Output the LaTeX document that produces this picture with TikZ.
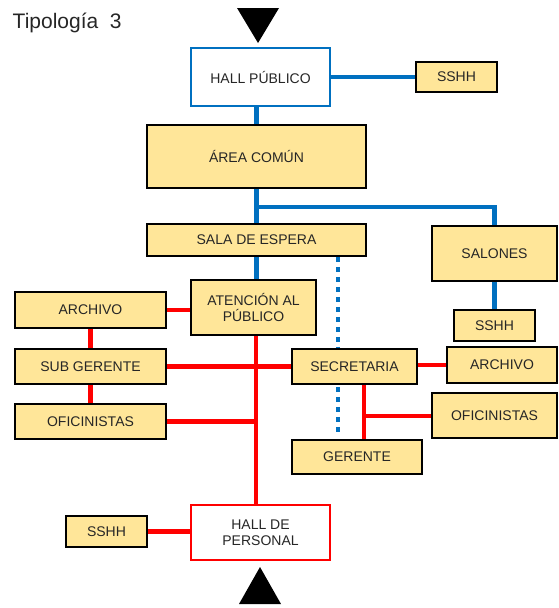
\documentclass[tikz,border=0pt]{standalone}
\usepackage{fontspec}
\setmainfont{Liberation Sans}
\usetikzlibrary{backgrounds}
\definecolor{boxfill}{HTML}{FFE699}
\definecolor{bl}{HTML}{0070C0}
\definecolor{rd}{HTML}{FF0000}
\definecolor{txt}{HTML}{262626}
\tikzset{
  box/.style={draw=black, line width=1.6pt, fill=boxfill, inner sep=0pt, align=center,
    font=\fontsize{14}{16.5}\selectfont, text=txt},
  hallb/.style={box, fill=white, draw=bl, line width=2.6pt},
  hallr/.style={box, fill=white, draw=rd, line width=2.6pt},
  bline/.style={draw=bl, line width=4.8pt},
  rline/.style={draw=rd, line width=4.8pt},
  dline/.style={draw=bl, line width=4.8pt, dash pattern=on 5pt off 5pt},
}
\begin{document}
\begin{tikzpicture}[x=1pt,y=-1pt]
\useasboundingbox (0,0) rectangle (558,608);
\node[anchor=base west, inner sep=0pt, font=\fontsize{21}{24}\selectfont, text=txt] (title) at (12.5,28) {Tipología\ \ 3};
% nodes
\node[hallb, minimum width=139, minimum height=58] (hallp) at (260.5,77) {HALL PÚBLICO};
\node[box, minimum width=81, minimum height=30] (sshh1) at (456.5,77) {SSHH};
\node[box, minimum width=219, minimum height=63] (area) at (256.5,156.5) {ÁREA COMÚN};
\node[box, minimum width=219, minimum height=32] (sala) at (256.5,240) {SALA DE ESPERA};
\node[box, minimum width=125, minimum height=55] (salones) at (494.5,253.5) {SALONES};
\node[box, minimum width=81, minimum height=31] (sshh2) at (494.5,325.5) {SSHH};
\node[box, minimum width=125, minimum height=55] (aten) at (253.5,307.5) {ATENCIÓN AL\\PÚBLICO};
\node[box, minimum width=151, minimum height=36] (arch1) at (90.5,310) {ARCHIVO};
\node[box, minimum width=151, minimum height=35] (subg) at (90.5,366.5) {SUB GERENTE};
\node[box, minimum width=151, minimum height=35] (ofi1) at (90.5,421.5) {OFICINISTAS};
\node[box, minimum width=125, minimum height=35] (secr) at (354.5,366.5) {SECRETARIA};
\node[box, minimum width=110, minimum height=36] (arch2) at (502,365) {ARCHIVO};
\node[box, minimum width=125, minimum height=45] (ofi2) at (494.5,415.5) {OFICINISTAS};
\node[box, minimum width=130, minimum height=34] (ger) at (357,457) {GERENTE};
\node[hallr, minimum width=139, minimum height=55] (hallper) at (260.5,532.5) {HALL DE\\PERSONAL};
\node[box, minimum width=81, minimum height=31] (sshh3) at (106.5,531.5) {SSHH};
% helper coordinates
\coordinate (br) at (256.5,207);
\coordinate (dotend) at (338,433);
\coordinate (redx) at (256,0);
\coordinate (secx) at (364,0);
\coordinate (ofij) at (364,416);
% arrows (triangles)
\fill[black] (237,8) -- (279,8) -- (258,43) -- cycle;
\fill[black] (239,604) -- (281,604) -- (260,567) -- cycle;
% connectors
\begin{scope}[on background layer]
\draw[bline] (hallp.east) -- (sshh1.west);
\draw[bline] (hallp.south -| area.north) -- (area.north);
\draw[bline] (area.south) -- (sala.north);
\draw[bline] (br) -| (salones.north);
\draw[bline] (sala.south) -- (sala.south |- aten.north);
\draw[bline] (salones.south) -- (sshh2.north);
\draw[dline] (sala.south -| dotend) -- (dotend);
\draw[rline] (arch1.east) -- (arch1.east -| aten.west);
\draw[rline] (arch1.south) -- (subg.north);
\draw[rline] (subg.south) -- (ofi1.north);
\draw[rline] (aten.south -| redx) -- (hallper.north -| redx);
\draw[rline] (subg.east) -- (subg.east -| secr.west);
\draw[rline] (ofi1.east) -- (ofi1.east -| redx);
\draw[rline] (secr.east |- arch2.west) -- (arch2.west);
\draw[rline] (secr.south -| secx) -- (ger.north -| secx);
\draw[rline] (ofij) -- (ofij -| ofi2.west);
\draw[rline] (sshh3.east) -- (sshh3.east -| hallper.west);
\end{scope}
\end{tikzpicture}
\end{document}
